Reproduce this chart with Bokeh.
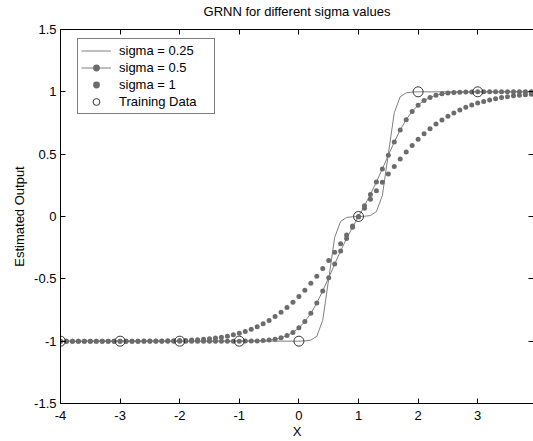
from bokeh.plotting import figure
from bokeh.models import Range1d, LinearAxis, FixedTicker, Legend, LegendItem
from bokeh.embed import file_html
from bokeh.resources import INLINE

# ---- data ----
x = [-4.0, -3.9, -3.8, -3.7, -3.6, -3.5, -3.4, -3.3, -3.2, -3.1,
     -3.0, -2.9, -2.8, -2.7, -2.6, -2.5, -2.4, -2.3, -2.2, -2.1,
     -2.0, -1.9, -1.8, -1.7, -1.6, -1.5, -1.4, -1.3, -1.2, -1.1,
     -1.0, -0.9, -0.8, -0.7, -0.6, -0.5, -0.4, -0.3, -0.2, -0.1,
     0.0, 0.1, 0.2, 0.3, 0.4, 0.5, 0.6, 0.7, 0.8, 0.9,
     1.0, 1.1, 1.2, 1.3, 1.4, 1.5, 1.6, 1.7, 1.8, 1.9,
     2.0, 2.1, 2.2, 2.3, 2.4, 2.5, 2.6, 2.7, 2.8, 2.9,
     3.0, 3.1, 3.2, 3.3, 3.4, 3.5, 3.6, 3.7, 3.8, 3.9,
     4.0]

y_sigma_025 = [-1.0, -1.0, -1.0, -1.0, -1.0, -1.0, -1.0, -1.0, -1.0, -1.0,
               -1.0, -1.0, -1.0, -1.0, -1.0, -1.0, -1.0, -1.0, -1.0, -1.0,
               -1.0, -1.0, -1.0, -1.0, -1.0, -1.0, -1.0, -1.0, -1.0, -1.0,
               -1.0, -1.0, -1.0, -1.0, -1.0, -1.0, -1.0, -1.0, -1.0, -1.0,
               -1.0, -0.998, -0.992, -0.961, -0.832, -0.5, -0.168, -0.039, -0.008, -0.002,
               0.0, 0.002, 0.008, 0.039, 0.168, 0.5, 0.832, 0.961, 0.992, 0.998,
               1.0, 1.0, 1.0, 1.0, 1.0, 1.0, 1.0, 1.0, 1.0, 1.0,
               1.0, 1.0, 1.0, 1.0, 1.0, 1.0, 1.0, 1.0, 1.0, 1.0,
               1.0]

y_sigma_05 = [-1.0, -1.0, -1.0, -1.0, -1.0, -1.0, -1.0, -1.0, -1.0, -1.0,
              -1.0, -1.0, -1.0, -1.0, -1.0, -1.0, -1.0, -1.0, -1.0, -1.0,
              -1.0, -1.0, -1.0, -1.0, -1.0, -1.0, -1.0, -1.0, -1.0, -1.0,
              -1.0, -0.999, -0.999, -0.998, -0.995, -0.991, -0.984, -0.973, -0.955, -0.930,
              -0.893, -0.843, -0.777, -0.694, -0.597, -0.491, -0.382, -0.276, -0.177, -0.086,
              0.0, 0.086, 0.177, 0.276, 0.382, 0.491, 0.597, 0.694, 0.777, 0.843,
              0.893, 0.930, 0.955, 0.973, 0.984, 0.991, 0.995, 0.997, 0.999, 0.999,
              1.0, 1.0, 1.0, 1.0, 1.0, 1.0, 1.0, 1.0, 1.0, 1.0,
              1.0]

y_sigma_1 = [-1.0, -1.0, -1.0, -1.0, -1.0, -1.0, -1.0, -1.0, -1.0, -1.0,
             -1.0, -1.0, -1.0, -1.0, -0.999, -0.999, -0.999, -0.998, -0.997, -0.997,
             -0.995, -0.994, -0.991, -0.989, -0.985, -0.981, -0.975, -0.968, -0.960, -0.949,
             -0.937, -0.922, -0.905, -0.884, -0.861, -0.834, -0.803, -0.769, -0.730, -0.688,
             -0.641, -0.591, -0.536, -0.479, -0.417, -0.353, -0.287, -0.218, -0.148, -0.076,
             -0.005, 0.067, 0.138, 0.207, 0.275, 0.340, 0.402, 0.462, 0.518, 0.570,
             0.619, 0.663, 0.704, 0.741, 0.775, 0.805, 0.831, 0.855, 0.876, 0.894,
             0.910, 0.923, 0.935, 0.945, 0.954, 0.961, 0.968, 0.973, 0.977, 0.981,
             0.984]

x_train = [-4, -3, -2, -1, 0, 1, 2, 3]
y_train = [-1, -1, -1, -1, -1, 0, 1, 1]

x_ticks = [-4, -3, -2, -1, 0, 1, 2, 3]
x_tick_labels = ["-4", "-3", "-2", "-1", "0", "1", "2", "3"]
y_ticks = [-1.5, -1, -0.5, 0, 0.5, 1, 1.5]
y_tick_labels = ["-1.5", "-1", "-0.5", "0", "0.5", "1", "1.5"]

series_labels = ["sigma = 0.25", "sigma = 0.5", "sigma = 1", "Training Data"]
title_text = "GRNN for different sigma values"

# ---- styling ----
FONT = "Liberation Sans"
FS = "13px"
LINE_COLOR = "#7f7f7f"
DOT_COLOR = "#6c6c6c"

p = figure(width=533, height=441, output_backend="svg", toolbar_location=None,
           x_range=Range1d(-4, 3.936), y_range=Range1d(-1.5, 1.5),
           title=None, x_axis_label="X", y_axis_label="Estimated Output",
           min_border_left=60, min_border_right=0, min_border_top=29, min_border_bottom=38)
p.grid.visible = False
p.outline_line_color = None
p.background_fill_color = "white"
p.border_fill_color = "white"


def style_axis(ax, ticks, labels, show_labels=True):
    ax.ticker = FixedTicker(ticks=ticks)
    ax.major_tick_in = 5
    ax.major_tick_out = 0
    ax.minor_tick_line_color = None
    ax.major_tick_line_color = "black"
    ax.axis_line_color = "black"
    if show_labels:
        ax.major_label_overrides = {t: l for t, l in zip(ticks, labels)}
        ax.major_label_text_font = FONT
        ax.major_label_text_font_size = FS
        ax.major_label_text_color = "black"
    else:
        # tick labels are not drawn on the top / right box edges
        ax.major_label_text_font_size = "0px"
        ax.major_label_text_color = None
        ax.major_label_standoff = 0
    ax.axis_label_text_font = FONT
    ax.axis_label_text_font_size = FS
    ax.axis_label_text_font_style = "normal"
    ax.axis_label_text_color = "black"


xa = p.xaxis[0]
ya = p.yaxis[0]
style_axis(xa, x_ticks, x_tick_labels)
style_axis(ya, y_ticks, y_tick_labels)
xa.major_label_standoff = 7
xa.axis_label_standoff = 1
ya.major_label_standoff = 4
ya.axis_label_standoff = 4

# top box edge carries the chart title as its label
top = LinearAxis(axis_label=title_text)
style_axis(top, x_ticks, x_tick_labels, show_labels=False)
top.axis_label_standoff = 11
p.add_layout(top, "above")

right = LinearAxis()
style_axis(right, y_ticks, y_tick_labels, show_labels=False)
right.axis_line_color = None
p.add_layout(right, "right")

r025 = p.line(x, y_sigma_025, line_color=LINE_COLOR, line_width=1)
r05l = p.line(x, y_sigma_05, line_color=LINE_COLOR, line_width=1)
r05d = p.scatter(x, y_sigma_05, size=5, fill_color=DOT_COLOR, line_color=None)
r1 = p.scatter(x, y_sigma_1, size=5, fill_color=DOT_COLOR, line_color=None)
rtr = p.scatter(x_train, y_train, marker="circle", size=10, fill_color=None,
                line_color="#222222", line_width=0.9)

legend = Legend(items=[
    LegendItem(label=series_labels[0], renderers=[r025]),
    LegendItem(label=series_labels[1], renderers=[r05l, r05d]),
    LegendItem(label=series_labels[2], renderers=[r1]),
    LegendItem(label=series_labels[3], renderers=[rtr]),
], location=(17, 289))
legend.label_text_font = FONT
legend.label_text_font_size = FS
legend.label_text_color = "black"
legend.label_height = 17
legend.glyph_height = 17
legend.glyph_width = 30
legend.label_standoff = 8
legend.label_width = 92
legend.padding = 3
legend.spacing = 0
legend.margin = 0
legend.border_line_color = "black"
legend.border_line_width = 1
legend.background_fill_color = "white"
legend.background_fill_alpha = 1
p.add_layout(legend)

open("out.html", "w").write(file_html(p, INLINE))
